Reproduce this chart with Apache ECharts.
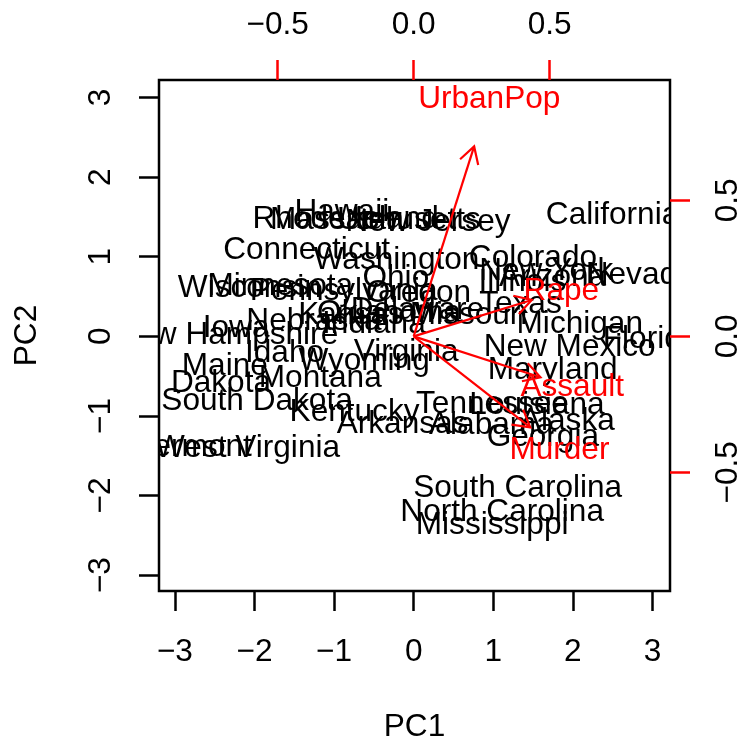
<!DOCTYPE html>
<html>
<head>
<meta charset="utf-8">
<script src="https://cdn.jsdelivr.net/npm/echarts@6/dist/echarts.min.js"></script>
<style>
  html, body { margin: 0; padding: 0; background: #fff; }
  #main { width: 743px; height: 742px; }
</style>
</head>
<body>
<div id="main"></div>
<script>
// biplot of USArrests PCA (scores and loadings as drawn, signs flipped)
var states = ['Alabama','Alaska','Arizona','Arkansas','California','Colorado','Connecticut','Delaware',
  'Florida','Georgia','Hawaii','Idaho','Illinois','Indiana','Iowa','Kansas','Kentucky','Louisiana',
  'Maine','Maryland','Massachusetts','Michigan','Minnesota','Mississippi','Missouri','Montana',
  'Nebraska','Nevada','New Hampshire','New Jersey','New Mexico','New York','North Carolina',
  'North Dakota','Ohio','Oklahoma','Oregon','Pennsylvania','Rhode Island','South Carolina',
  'South Dakota','Tennessee','Texas','Utah','Vermont','Virginia','Washington','West Virginia',
  'Wisconsin','Wyoming'];
var pc1 = [0.976, 1.931, 1.745, -0.140, 2.499, 1.499, -1.345, 0.047,
  2.983, 1.623, -0.903, -1.623, 1.365, -0.500, -2.231, -0.789, -0.743, 1.549,
  -2.373, 1.746, -0.481, 2.087, -1.676, 0.986, 0.690, -1.174,
  -1.253, 2.846, -2.360, 0.180, 1.960, 1.666, 1.112,
  -2.962, -0.224, -0.309, 0.059, -0.879, -0.855, 1.307,
  -1.968, 0.990, 1.342, -0.545, -2.773, -0.095, -0.215, -2.087,
  -2.059, -0.623];
var pc2 = [-1.122, -1.062, 0.738, -1.109, 1.527, 0.978, 1.078, 0.322,
  -0.039, -1.266, 1.555, -0.209, 0.675, 0.150, 0.103, 0.267, -0.949, -0.862,
  -0.373, -0.423, 1.460, 0.154, 0.626, -2.370, 0.261, -0.531,
  0.192, 0.768, 0.018, 1.435, -0.141, 0.815, -2.206,
  -0.593, 0.735, 0.285, 0.536, 0.565, 1.477, -1.914,
  -0.815, -0.852, 0.408, 1.457, -1.388, -0.198, 0.960, -1.411,
  0.605, -0.318];

var vars = ['Murder', 'Assault', 'UrbanPop', 'Rape'];
var load1 = [0.536, 0.583, 0.278, 0.543];
var load2 = [-0.418, -0.188, 0.873, 0.167];

var pcTicks = [-3, -2, -1, 0, 1, 2, 3];
var loadTicks = [-0.5, 0, 0.5];

var FONT = '"Liberation Sans", Arial, Helvetica, sans-serif';
var FS = 31.6;
var RED = '#ff0000';

// limits like R's biplot: common range over both score columns, 4% padding
function urange(a) { return [-Math.abs(Math.min.apply(null, a)), Math.abs(Math.max.apply(null, a))]; }
var r1 = urange(pc1), r2 = urange(pc2);
var lim = [Math.min(r1[0], r2[0]), Math.max(r1[1], r2[1])];
var l1 = urange(load1), l2 = urange(load2);
var ratio = Math.max(l1[0] / lim[0], l1[1] / lim[1], l2[0] / lim[0], l2[1] / lim[1]);
var pad = (lim[1] - lim[0]) * 0.04;
var pMin = lim[0] - pad, pMax = lim[1] + pad;

function minus(s) { return s.replace('-', '\u2212'); }

var chart = echarts.init(document.getElementById('main'), null, { renderer: 'canvas' });

function axisBase(color, ticks, fmt) {
  return {
    type: 'value',
    splitLine: { show: false },
    axisLine: { show: false, onZero: false },
    axisTick: { show: true, customValues: ticks, length: 20, lineStyle: { color: color, width: 2.5 } },
    axisLabel: { customValues: ticks, color: '#000', fontSize: FS, fontFamily: FONT, margin: 42, formatter: fmt },
    nameTextStyle: { color: '#000', fontSize: FS, fontFamily: FONT }
  };
}

var fmtPc = function (v) { return minus(String(v)); };
var fmtLoad = function (v) { return minus(v.toFixed(1)); };

var xMain = axisBase('#000', pcTicks, fmtPc);
xMain.position = 'bottom'; xMain.min = pMin; xMain.max = pMax;
xMain.axisLabel.margin = 45;
xMain.name = 'PC1'; xMain.nameLocation = 'middle'; xMain.nameGap = 120;

var xTop = axisBase(RED, loadTicks, fmtLoad);
xTop.position = 'top'; xTop.min = pMin * ratio; xTop.max = pMax * ratio;
xTop.axisLabel.margin = 39;

var yMain = axisBase('#000', pcTicks, fmtPc);
yMain.position = 'left'; yMain.min = pMin; yMain.max = pMax;
yMain.axisLabel.rotate = 90;
yMain.name = 'PC2'; yMain.nameLocation = 'middle'; yMain.nameGap = 116;

var yRight = axisBase(RED, loadTicks, fmtLoad);
yRight.position = 'right'; yRight.min = pMin * ratio; yRight.max = pMax * ratio;
yRight.axisLabel.rotate = 90;

var option = {
  backgroundColor: '#fff',
  animation: false,
  grid: {
    left: 159, top: 80, width: 511, height: 511,
    outerBoundsMode: 'none', containLabel: false,
    show: true, borderColor: '#000', borderWidth: 2.5
  },
  xAxis: [xMain, xTop],
  yAxis: [yMain, yRight],
  series: [
    {
      // state names at their scores
      type: 'custom',
      xAxisIndex: 0, yAxisIndex: 0,
      clip: true, silent: true,
      data: pc1.map(function (v, i) { return [v, pc2[i]]; }),
      renderItem: function (params, api) {
        var p = api.coord([api.value(0), api.value(1)]);
        return {
          type: 'text', x: p[0], y: p[1],
          style: { text: states[params.dataIndex], fill: '#000', fontSize: FS, fontFamily: FONT,
                   align: 'center', verticalAlign: 'middle' }
        };
      }
    },
    {
      // loading arrows (drawn to 0.8 of the loading, as R does)
      type: 'custom',
      xAxisIndex: 1, yAxisIndex: 1,
      clip: true, silent: true,
      data: load1.map(function (v, i) { return [v, load2[i]]; }),
      renderItem: function (params, api) {
        var o = api.coord([0, 0]);
        var t = api.coord([api.value(0) * 0.8, api.value(1) * 0.8]);
        var dx = t[0] - o[0], dy = t[1] - o[1];
        var len = Math.sqrt(dx * dx + dy * dy);
        var bx = -dx / len, by = -dy / len;
        var L = 19, c = Math.cos(Math.PI / 6), s = Math.sin(Math.PI / 6);
        var h1 = [t[0] + L * (bx * c - by * s), t[1] + L * (bx * s + by * c)];
        var h2 = [t[0] + L * (bx * c + by * s), t[1] + L * (-bx * s + by * c)];
        var st = { stroke: RED, lineWidth: 2.2, fill: null };
        return {
          type: 'group',
          children: [
            { type: 'line', shape: { x1: o[0], y1: o[1], x2: t[0], y2: t[1] }, style: st },
            { type: 'polyline', shape: { points: [h1, t, h2] }, style: st }
          ]
        };
      }
    },
    {
      // variable names at the full loadings
      type: 'custom',
      xAxisIndex: 1, yAxisIndex: 1,
      clip: true, silent: true,
      data: load1.map(function (v, i) { return [v, load2[i]]; }),
      renderItem: function (params, api) {
        var p = api.coord([api.value(0), api.value(1)]);
        return {
          type: 'text', x: p[0], y: p[1],
          style: { text: vars[params.dataIndex], fill: RED, fontSize: FS, fontFamily: FONT,
                   align: 'center', verticalAlign: 'middle' }
        };
      }
    }
  ]
};

chart.setOption(option);
</script>
</body>
</html>
